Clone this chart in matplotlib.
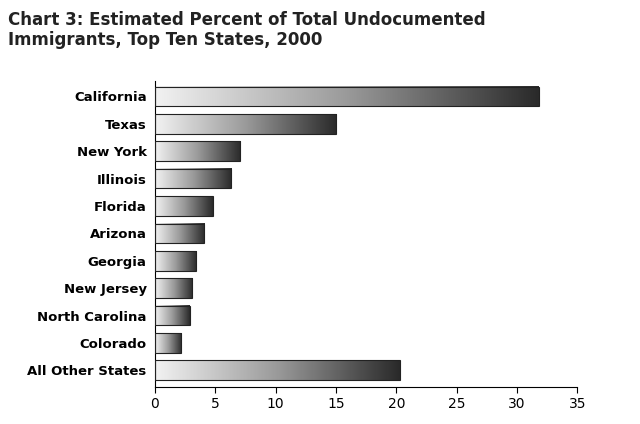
import matplotlib
matplotlib.use("Agg")
import matplotlib.pyplot as plt
import numpy as np

states = ["California", "Texas", "New York", "Illinois", "Florida", "Arizona",
          "Georgia", "New Jersey", "North Carolina", "Colorado", "All Other States"]
values = [31.8, 15.0, 7.05, 6.3, 4.8, 4.1, 3.4, 3.1, 2.9, 2.2, 20.3]
xticks = [0, 5, 10, 15, 20, 25, 30, 35]

fig = plt.figure(figsize=(6.4, 4.24), dpi=100)
ax = fig.add_axes([0.242, 0.088, 0.66, 0.72])
n = len(states)
grad = np.linspace(0, 1, 256).reshape(1, -1)
cmap = matplotlib.colors.LinearSegmentedColormap.from_list("g", ["#f2f2f2", "#9a9a9a", "#2a2a2a"])
h = 0.72
for i, (s, v) in enumerate(zip(states, values)):
    y = n - 1 - i
    ax.imshow(grad, extent=[0, v, y - h/2, y + h/2], aspect="auto", cmap=cmap, zorder=2)
    ax.add_patch(plt.Rectangle((0, y - h/2), v, h, fill=False, edgecolor="#222222", lw=0.8, zorder=3))
ax.set_xlim(0, 35)
ax.set_ylim(-0.6, n - 0.45)
ax.set_yticks(range(n))
ax.set_yticklabels(states[::-1], fontweight="bold", fontsize=9.5)
ax.set_xticks(xticks)
ax.set_xticklabels([str(t) for t in xticks], fontsize=10)
for sp in ["top", "right"]:
    ax.spines[sp].set_visible(False)
ax.tick_params(axis="y", length=0, pad=6)
ax.tick_params(axis="x", length=4, direction="out")
fig.text(0.012, 0.975, "Chart 3: Estimated Percent of Total Undocumented\nImmigrants, Top Ten States, 2000",
         fontsize=12, fontweight="bold", va="top", ha="left", color="#222222", linespacing=1.2)
fig.savefig("out.png", dpi=100)
